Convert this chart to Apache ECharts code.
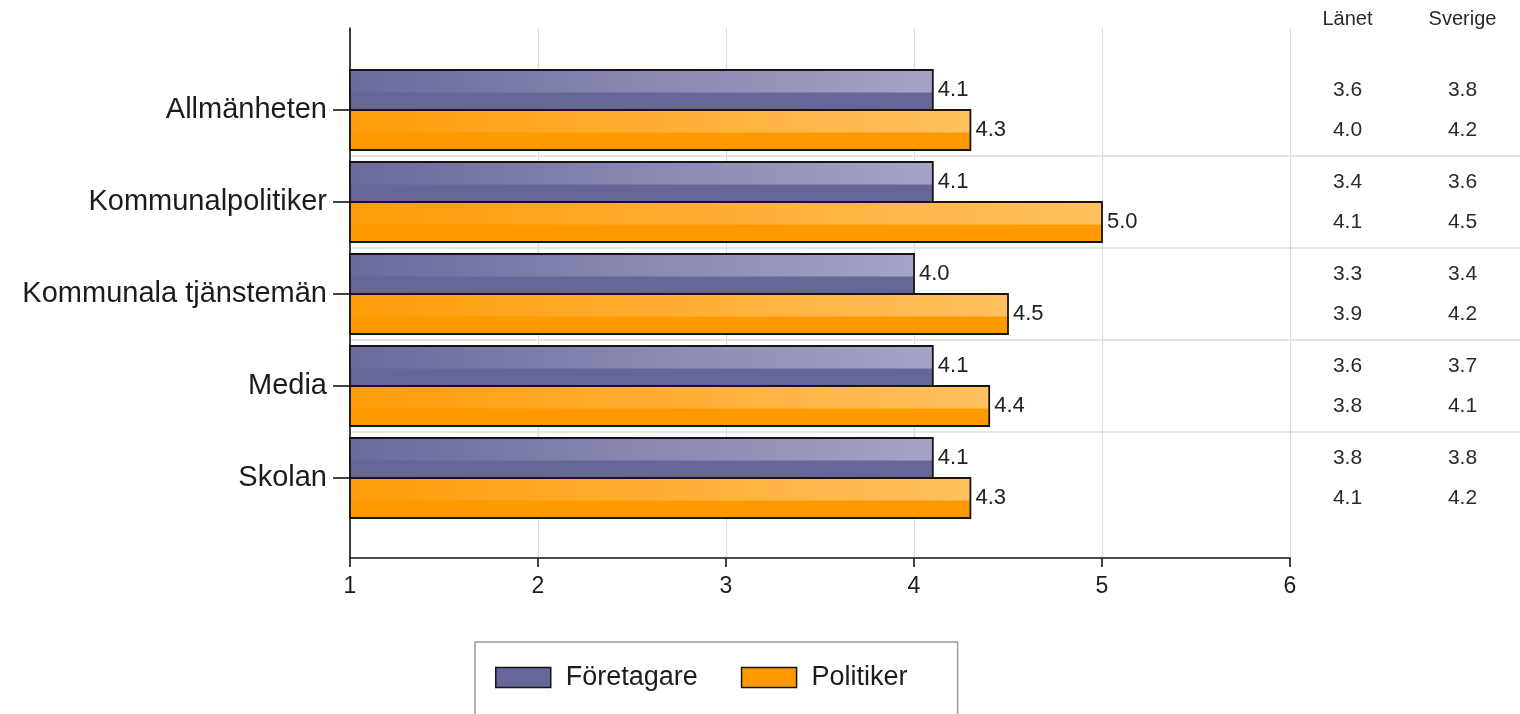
<!DOCTYPE html>
<html>
<head>
<meta charset="utf-8">
<title>Förtroende</title>
<script src="https://cdn.jsdelivr.net/npm/echarts@6/dist/echarts.min.js"></script>
<style>
  html, body { margin: 0; padding: 0; background: #fff; }
  #chart { width: 1520px; height: 714px; }
</style>
</head>
<body>
<div id="chart"></div>
<script>
const categories = ['Allmänheten', 'Kommunalpolitiker', 'Kommunala tjänstemän', 'Media', 'Skolan']
const foretagare = [4.1, 4.1, 4.0, 4.1, 4.1]
const politiker = [4.3, 5.0, 4.5, 4.4, 4.3]

// jämförelsetabell till höger
const tableColumns = ['Länet', 'Sverige']
const lanetForetagare = [3.6, 3.4, 3.3, 3.6, 3.8]
const lanetPolitiker = [4.0, 4.1, 3.9, 3.8, 4.1]
const sverigeForetagare = [3.8, 3.6, 3.4, 3.7, 3.8]
const sverigePolitiker = [4.2, 4.5, 4.2, 4.1, 4.2]

const xTicks = [1, 2, 3, 4, 5, 6]

const FONT = "'Liberation Sans', Arial, sans-serif"
const COLORS = {
  foretagare: { base: '#666699', left: '#6b6b9d', right: '#a4a4c6' },
  politiker: { base: '#ff9900', left: '#ff9c08', right: '#ffc060' },
}

function makeRenderer(style, upper) {
  return function (params, api) {
    const cat = api.value(1)
    const val = api.value(0)
    const start = api.coord([xTicks[0], cat])
    const end = api.coord([val, cat])
    const band = api.size([0, 1])[1]
    const h = band * 40 / 92
    const y = upper ? start[1] - h : start[1]
    const w = end[0] - start[0]
    return {
      type: 'group',
      children: [
        { type: 'rect', shape: { x: start[0], y, width: w, height: h }, style: { fill: style.base } },
        {
          type: 'rect',
          shape: { x: start[0], y, width: w, height: h * 0.56 },
          style: {
            fill: new echarts.graphic.LinearGradient(0, 0, 1, 0, [
              { offset: 0, color: style.left },
              { offset: 1, color: style.right },
            ]),
          },
        },
        { type: 'rect', shape: { x: start[0], y, width: w, height: h }, style: { fill: 'none', stroke: '#151515', lineWidth: 1.8 } },
        {
          type: 'text',
          style: {
            x: end[0] + 5, y: y + h / 2, text: val.toFixed(1),
            font: '22px ' + FONT, fill: '#222', verticalAlign: 'middle', align: 'left',
          },
        },
      ],
    }
  }
}

function tableData(lanet, sverige) {
  const out = []
  categories.forEach((c, i) => {
    out.push([tableColumns[0], c, lanet[i]])
    out.push([tableColumns[1], c, sverige[i]])
  })
  return out
}

function tableSeries(name, data, dy) {
  return {
    name, type: 'scatter', xAxisIndex: 2, yAxisIndex: 2,
    data, encode: { x: 0, y: 1 }, symbolSize: 1,
    itemStyle: { color: 'rgba(0,0,0,0)', opacity: 1 },
    label: {
      show: true, position: 'inside', offset: [0, dy],
      formatter: p => p.value[2].toFixed(1),
      fontFamily: FONT, fontSize: 21, color: '#2a2a2a', opacity: 1,
    },
    silent: true,
  }
}

const option = {
  animation: false,
  textStyle: { fontFamily: FONT },
  grid: [
    { left: 350, top: 28, width: 940, height: 530 },
    { left: 350, top: 64, width: 940, height: 460 },
    { left: 1290, top: 64, right: 0, height: 460 },
  ],
  xAxis: [
    {
      gridIndex: 0, type: 'value', min: xTicks[0], max: xTicks[xTicks.length - 1], interval: 1,
      axisLine: { show: true, onZero: false, lineStyle: { color: '#151515', width: 1.6 } },
      axisTick: { show: true, length: 9, lineStyle: { color: '#151515', width: 1.6 } },
      axisLabel: { fontSize: 23, color: '#1c1c1c', margin: 17, fontFamily: FONT },
      splitLine: { show: true, lineStyle: { color: '#dcdcdc', width: 1.2 } },
    },
    { gridIndex: 1, type: 'value', min: xTicks[0], max: xTicks[xTicks.length - 1], show: false },
    {
      gridIndex: 2, type: 'category', data: tableColumns, position: 'top',
      axisLine: { show: false }, axisTick: { show: false },
      axisLabel: { fontSize: 20, color: '#2a2a2a', margin: 35, fontFamily: FONT },
      splitLine: { show: false },
    },
  ],
  yAxis: [
    {
      gridIndex: 0, type: 'value', min: 0, max: 1,
      axisLine: { show: true, onZero: false, lineStyle: { color: '#151515', width: 1.6 } },
      axisTick: { show: false }, axisLabel: { show: false }, splitLine: { show: false },
    },
    {
      gridIndex: 1, type: 'category', data: categories, inverse: true,
      axisLine: { show: false },
      axisTick: { show: true, alignWithLabel: true, length: 17, lineStyle: { color: '#151515', width: 1.6 } },
      axisLabel: { fontSize: 29, color: '#1c1c1c', margin: 23, fontFamily: FONT },
      splitLine: { show: true, showMinLine: false, showMaxLine: false, lineStyle: { color: '#dcdcdc', width: 1.5 } },
    },
    {
      gridIndex: 2, type: 'category', data: categories, inverse: true,
      axisLine: { show: false }, axisTick: { show: false }, axisLabel: { show: false },
      splitLine: { show: true, showMinLine: false, showMaxLine: false, lineStyle: { color: '#dcdcdc', width: 1.5 } },
    },
  ],
  legend: {
    left: 475, top: 642,
    padding: [22, 50, 40, 20],
    borderColor: '#999', borderWidth: 1.5,
    icon: 'rect', itemWidth: 55, itemHeight: 20, itemGap: 43,
    textStyle: { fontSize: 27, color: '#1c1c1c', fontFamily: FONT, padding: [0, 0, 0, 10] },
    data: [
      { name: 'Företagare', itemStyle: { color: COLORS.foretagare.base, borderColor: '#151515', borderWidth: 1.5 } },
      { name: 'Politiker', itemStyle: { color: COLORS.politiker.base, borderColor: '#151515', borderWidth: 1.5 } },
    ],
  },
  series: [
    {
      name: 'Företagare', type: 'custom', xAxisIndex: 1, yAxisIndex: 1,
      itemStyle: { color: COLORS.foretagare.base },
      encode: { x: 0, y: 1 },
      data: foretagare.map((v, i) => [v, i]),
      renderItem: makeRenderer(COLORS.foretagare, true),
    },
    {
      name: 'Politiker', type: 'custom', xAxisIndex: 1, yAxisIndex: 1,
      itemStyle: { color: COLORS.politiker.base },
      encode: { x: 0, y: 1 },
      data: politiker.map((v, i) => [v, i]),
      renderItem: makeRenderer(COLORS.politiker, false),
    },
    tableSeries('tabell-foretagare', tableData(lanetForetagare, sverigeForetagare), -20),
    tableSeries('tabell-politiker', tableData(lanetPolitiker, sverigePolitiker), 20),
  ],
}

const chart = echarts.init(document.getElementById('chart'))
chart.setOption(option)
window.addEventListener('resize', () => chart.resize())
</script>
</body>
</html>
